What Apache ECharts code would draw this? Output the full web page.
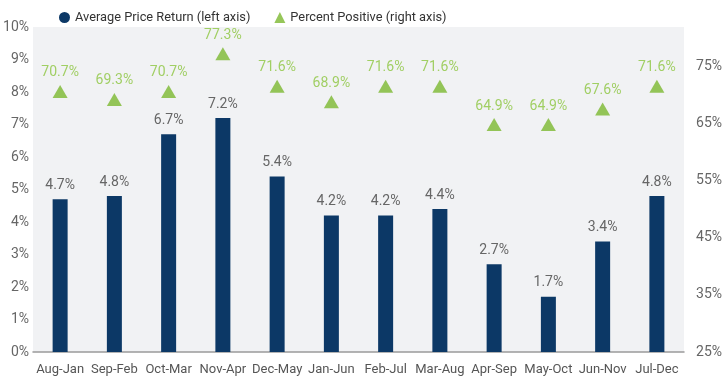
<!DOCTYPE html>
<html><head><meta charset="utf-8">
<script src="https://cdn.jsdelivr.net/npm/echarts@6/dist/echarts.min.js"></script>
<style>html,body{margin:0;padding:0;background:#fff}#c{width:725px;height:391px}</style>
</head><body><div id="c"></div>
<script>
const categories = ['Aug-Jan','Sep-Feb','Oct-Mar','Nov-Apr','Dec-May','Jan-Jun','Feb-Jul','Mar-Aug','Apr-Sep','May-Oct','Jun-Nov','Jul-Dec'];
const avgPriceReturn = [4.7, 4.8, 6.7, 7.2, 5.4, 4.2, 4.2, 4.4, 2.7, 1.7, 3.4, 4.8];
const percentPositive = [70.7, 69.3, 70.7, 77.3, 71.6, 68.9, 71.6, 71.6, 64.9, 64.9, 67.6, 71.6];
const leftTicks = [0,1,2,3,4,5,6,7,8,9,10];
const rightTicks = [25,35,45,55,65,75];

const FONT = 'Roboto, "Liberation Sans", sans-serif';
const chart = echarts.init(document.getElementById('c'), null, {renderer:'canvas'});
chart.setOption({
  animation:false,
  textStyle:{fontFamily:FONT},
  legend:{
    top:6, left:54, itemGap:24, itemWidth:11, itemHeight:11,
    textStyle:{fontFamily:FONT, fontSize:12.8, color:'#333'},
    data:[{name:'Average Price Return (left axis)', icon:'circle'},
          {name:'Percent Positive (right axis)', icon:'triangle'}]
  },
  grid:{left:33, right:34, top:27, bottom:39, show:true, backgroundColor:'#f1f2f4', borderWidth:0},
  xAxis:{
    type:'category', data:categories,
    axisLine:{show:true, lineStyle:{color:'#9a9a9a', width:1.5}},
    axisTick:{show:false},
    axisLabel:{fontFamily:FONT, fontSize:13, color:'#555', margin:11, interval:0}
  },
  yAxis:[
    {type:'value', min:leftTicks[0], max:leftTicks[leftTicks.length-1], interval:1,
     axisLine:{show:false}, axisTick:{show:false}, splitLine:{show:false},
     axisLabel:{fontFamily:FONT, fontSize:14, color:'#666', margin:4, formatter:v=>v+'%'}},
    {type:'value', min:rightTicks[0], max:82, interval:10,
     axisLine:{show:false}, axisTick:{show:false}, splitLine:{show:false},
     axisLabel:{fontFamily:FONT, fontSize:14, color:'#666', margin:12, showMaxLabel:false,
       formatter:v=> rightTicks.includes(v) ? v+'%' : ''}}
  ],
  series:[
    {name:'Average Price Return (left axis)', type:'bar', yAxisIndex:0, data:avgPriceReturn,
     barWidth:15, itemStyle:{color:'#0c3866'},
     label:{show:true, position:'top', distance:7, fontFamily:FONT, fontSize:14, color:'#666',
       formatter:p=>p.value.toFixed(1)+'%'}},
    {name:'Percent Positive (right axis)', type:'scatter', yAxisIndex:1, data:percentPositive,
     symbol:'triangle', symbolSize:[15,13], itemStyle:{color:'#7cb82f'},
     label:{show:true, position:'top', distance:5, fontFamily:FONT, fontSize:14, color:'#8cc63f',
       formatter:p=>p.value.toFixed(1)+'%'}}
  ]
});
</script></body></html>
